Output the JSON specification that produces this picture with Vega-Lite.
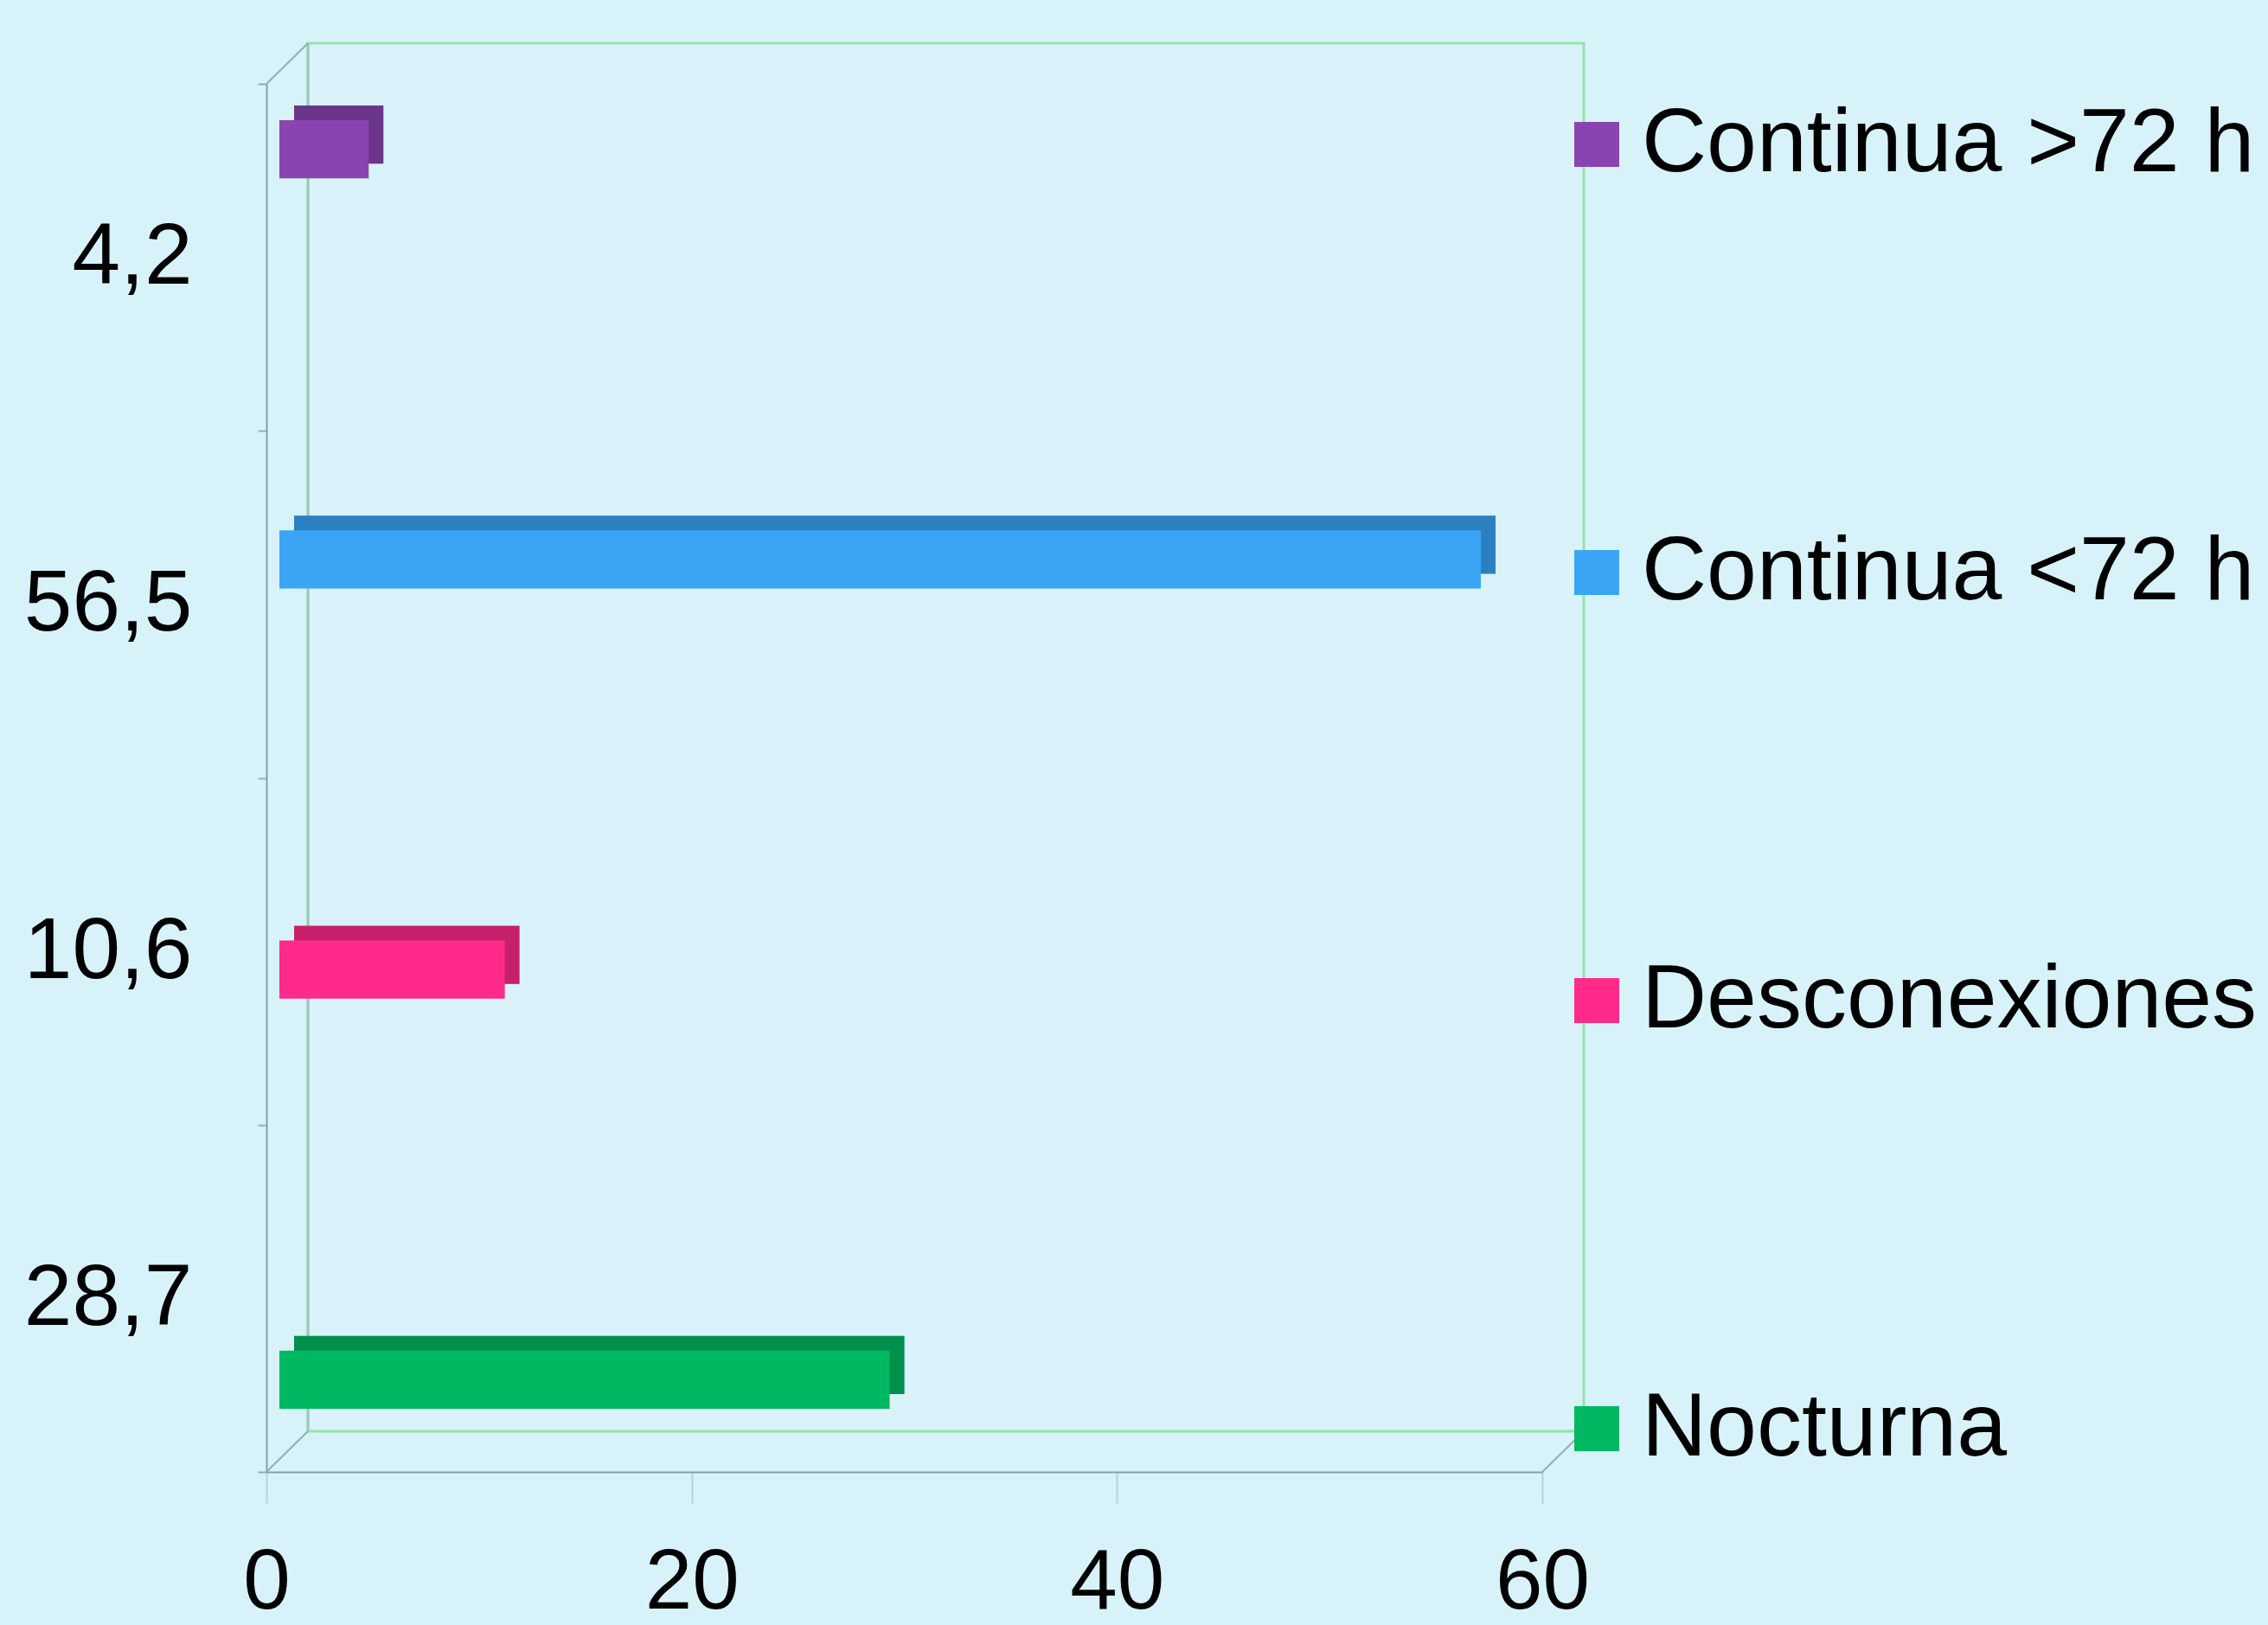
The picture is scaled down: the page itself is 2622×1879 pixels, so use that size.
{
  "$schema": "https://vega.github.io/schema/vega-lite/v6.json",
  "width": 1475,
  "height": 1605,
  "autosize": "none",
  "padding": {"left": 308, "top": 97, "right": 839, "bottom": 177},
  "background": "#D7F3F9",
  "config": {"view": {"stroke": null}, "font": "Liberation Sans"},
  "data": {
    "values": [
      {"cat": "4,2", "serie": "Continua >72 h", "valor": 4.2},
      {"cat": "56,5", "serie": "Continua <72 h", "valor": 56.5},
      {"cat": "10,6", "serie": "Desconexiones", "valor": 10.6},
      {"cat": "28,7", "serie": "Nocturna", "valor": 28.7}
    ]
  },
  "layer": [
    {
      "data": {"values": [{"f": 1}]},
      "mark": {"type": "rect", "fill": "#DAF2F9", "stroke": "#93E4A9", "strokeWidth": 3, "xOffset": 48, "x2Offset": 48, "yOffset": -47, "y2Offset": -47},
      "encoding": {
        "x": {"datum": 0, "type": "quantitative", "scale": {"domain": [0, 60]}},
        "x2": {"datum": 60},
        "y": {"datum": 0, "type": "quantitative", "scale": {"domain": [0, 4], "nice": false}, "axis": null},
        "y2": {"datum": 4}
      }
    },
    {
      "data": {"values": [{"f": 1}]},
      "mark": {"type": "rule", "stroke": "#A0C8C0", "strokeWidth": 3, "xOffset": 48, "yOffset": -47, "y2Offset": -47},
      "encoding": {
        "x": {"datum": 0, "type": "quantitative", "scale": {"domain": [0, 60]}},
        "y": {"datum": 0, "type": "quantitative", "scale": {"domain": [0, 4], "nice": false}, "axis": null},
        "y2": {"datum": 4}
      }
    },
    {
      "data": {"values": [{"px": 0, "py": 4}, {"px": 0, "py": 0}, {"px": 60, "py": 0}]},
      "mark": {"type": "rule", "stroke": "#8FB0B0", "strokeWidth": 2, "x2Offset": 48, "y2Offset": -47},
      "encoding": {
        "x": {"field": "px", "type": "quantitative", "scale": {"domain": [0, 60]}},
        "x2": {"field": "px"},
        "y": {"field": "py", "type": "quantitative", "scale": {"domain": [0, 4], "nice": false}, "axis": null},
        "y2": {"field": "py"}
      }
    },
    {
      "mark": {"type": "bar", "xOffset": 32, "x2Offset": 32},
      "encoding": {
        "y": {"field": "cat", "type": "nominal", "sort": null, "scale": {"domain": ["4,2", "56,5", "10,6", "28,7"], "paddingInner": 0, "paddingOuter": 0}, "axis": null},
        "yOffset": {"field": "serie", "type": "nominal", "sort": null, "scale": {"domain": ["Continua >72 h", "Continua <72 h", "Desconexiones", "Nocturna"], "paddingInner": 0.08, "paddingOuter": 0.786, "align": 0.217}},
        "x": {"field": "valor", "type": "quantitative", "scale": {"domain": [0, 60]}},
        "color": {"field": "serie", "type": "nominal", "scale": {"domain": ["Continua >72 h", "Continua <72 h", "Desconexiones", "Nocturna"], "range": ["#8A44B0", "#3AA5F5", "#FF2A8A", "#00B862"]}}
      }
    },
    {
      "mark": {"type": "bar", "xOffset": 32, "x2Offset": 32, "color": "#000000", "opacity": 0.22},
      "encoding": {
        "y": {"field": "cat", "type": "nominal", "sort": null, "scale": {"domain": ["4,2", "56,5", "10,6", "28,7"], "paddingInner": 0, "paddingOuter": 0}, "axis": null},
        "yOffset": {"field": "serie", "type": "nominal", "sort": null, "scale": {"domain": ["Continua >72 h", "Continua <72 h", "Desconexiones", "Nocturna"], "paddingInner": 0.08, "paddingOuter": 0.786, "align": 0.217}},
        "x": {"field": "valor", "type": "quantitative", "scale": {"domain": [0, 60]}}
      }
    },
    {
      "mark": {"type": "bar", "xOffset": 15, "x2Offset": 15},
      "encoding": {
        "y": {
          "field": "cat", "type": "nominal", "sort": null,
          "scale": {"domain": ["4,2", "56,5", "10,6", "28,7"], "paddingInner": 0, "paddingOuter": 0},
          "axis": {"title": null, "tickBand": "extent", "tickSize": 10, "tickWidth": 2, "tickColor": "#8FB0B0", "domainColor": "#7FA3A3", "domainWidth": 2, "labelPadding": 76, "labelFontSize": 100, "labelColor": "#000000", "labelFont": "Liberation Sans", "labelLimit": 0}
        },
        "yOffset": {"field": "serie", "type": "nominal", "sort": null, "scale": {"domain": ["Continua >72 h", "Continua <72 h", "Desconexiones", "Nocturna"], "paddingInner": 0.08, "paddingOuter": 0.786, "align": 0.365}},
        "x": {
          "field": "valor", "type": "quantitative", "scale": {"domain": [0, 60]},
          "axis": {"title": null, "values": [0, 20, 40, 60], "grid": false, "tickSize": 36, "tickWidth": 2, "tickColor": "#B5D3D6", "domainColor": "#7FA3A3", "domainWidth": 2, "labelPadding": 44, "labelFontSize": 98, "labelColor": "#000000", "labelFont": "Liberation Sans", "labelFlush": false}
        },
        "color": {
          "field": "serie", "type": "nominal",
          "scale": {"domain": ["Continua >72 h", "Continua <72 h", "Desconexiones", "Nocturna"], "range": ["#8A44B0", "#3AA5F5", "#FF2A8A", "#00B862"]},
          "legend": {"title": null, "orient": "none", "legendX": 1486, "legendY": 18, "symbolType": "square", "symbolSize": 2700, "symbolStrokeWidth": 0, "symbolOpacity": 1, "labelFontSize": 104, "labelFont": "Liberation Sans", "labelColor": "#000000", "labelOffset": 0, "rowPadding": 391, "labelLimit": 0}
        }
      }
    }
  ],
  "resolve": {"scale": {"y": "independent", "yOffset": "independent"}}
}
